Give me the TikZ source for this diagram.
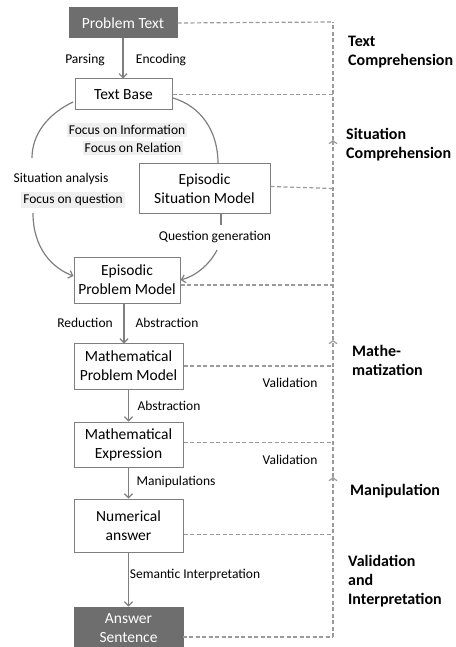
\documentclass[tikz,border=0pt]{standalone}
\usepackage{fontspec}
\setmainfont{Carlito}
\usetikzlibrary{arrows.meta}
\definecolor{boxdark}{HTML}{6E6E6E}
\definecolor{linegray}{HTML}{7F7F7F}
\definecolor{dashgray}{HTML}{9A9A9A}
\definecolor{tagfill}{HTML}{EFEFEF}
\tikzset{
  stage/.style={draw=linegray, line width=1pt, fill=white, align=center,
    inner sep=0pt, font=\fontsize{15.5}{19}\selectfont},
  endstage/.style={stage, fill=boxdark, draw=boxdark, text=white},
  lbl/.style={font=\fontsize{13.5}{16}\selectfont, inner sep=1pt},
  tag/.style={lbl, fill=tagfill, inner sep=2pt},
  phase/.style={font=\fontsize{16}{19}\selectfont\bfseries, align=left, anchor=west, inner sep=0pt},
  flow/.style={draw=linegray, line width=1.2pt, -{Straight Barb[length=4pt,width=8pt]}},
  link/.style={draw=dashgray, line width=1.2pt, dash pattern=on 4pt off 2.5pt},
  back/.style={link, -{Straight Barb[length=3pt,width=8pt]}}
}
\begin{document}
\begin{tikzpicture}[x=1pt,y=-1pt]
      \useasboundingbox (0,0) rectangle (455,647);

      % stages
      \node [endstage, minimum width=108pt, minimum height=30pt] (ptext) at (123,23) {Problem Text};
      \node [stage, minimum width=97pt, minimum height=31pt] (tbase) at (123.5,94.5) {Text Base};
      \node [stage, minimum width=131pt, minimum height=49pt] (esm) at (204.5,188.5) {Episodic\\Situation Model};
      \node [stage, minimum width=106pt, minimum height=46pt] (epm) at (127,280) {Episodic\\Problem Model};
      \node [stage, minimum width=109pt, minimum height=46pt] (mpm) at (128.5,366) {Mathematical\\Problem Model};
      \node [stage, minimum width=109pt, minimum height=45pt] (mexp) at (128.5,444.5) {Mathematical\\Expression};
      \node [stage, minimum width=109pt, minimum height=53pt] (numans) at (128.5,525.5) {Numerical\\answer};
      \node [endstage, minimum width=109pt, minimum height=42pt] (ansent) at (128.5,628) {Answer\\Sentence};

      % labels on the flow
      \node [lbl] (parse) at (85,60) {Parsing};
      \node [lbl] (encode) at (161,60) {Encoding};
      \node [tag] (finfo) at (127,130) {Focus on Information};
      \node [tag] (frel) at (133,148) {Focus on Relation};
      \node [lbl] (sitan) at (61,179) {Situation analysis};
      \node [tag] (fquest) at (73,200) {Focus on question};
      \node [lbl] (qgen) at (215,237) {Question generation};
      \node [lbl] (reduc) at (85,323) {Reduction};
      \node [lbl] (abstra) at (167,323) {Abstraction};
      \node [lbl] (abstrb) at (169,406) {Abstraction};
      \node [lbl] (manip) at (176,482) {Manipulations};
      \node [lbl] (seman) at (195,575) {Semantic Interpretation};
      \node [lbl] (valida) at (290,383) {Validation};
      \node [lbl] (validb) at (290,460) {Validation};

      % phases
      \node [phase] (ptc) at (348,52) {Text\\Comprehension};
      \node [phase] (psc) at (346,145) {Situation\\Comprehension};
      \node [phase] (pmz) at (352,360) {Mathe-\\matization};
      \node [phase] (pmp) at (350,491) {Manipulation};
      \node [phase] (pvi) at (348,581) {Validation\\and\\Interpretation};

      % main flow
      \draw [flow] (ptext.south) -- (ptext.south |- tbase.north);
      \draw [flow] (epm.south) ++(-3,0) -- ++(0,40);
      \draw [flow] (mpm.south) -- (mpm.south |- mexp.north);
      \draw [flow] (mexp.south) -- (mexp.south |- numans.north);
      \draw [flow] (numans.south) -- (numans.south |- ansent.north);

      % the loop round the situation model
      \coordinate (la) at (73,102);
      \coordinate (lb) at (32,158);
      \coordinate (lc) at (33,213);
      \coordinate (ra) at (173,98);
      \coordinate (rb) at (221,225);
      \coordinate (rc) at (217,250);
      \draw [draw=linegray, line width=1.2pt] (la) .. controls (48,114) and (32,134) .. (lb);
      \draw [flow] (lc) .. controls (33,248) and (52,268) .. ([yshift=4pt]epm.west);
      \draw [draw=linegray, line width=1.2pt] (ra) .. controls (200,106) and (218,130) .. (esm.north -| 218,0);
      \draw [draw=linegray, line width=1.2pt] (esm.south -| rb) -- (rb);
      \draw [flow] (rc) .. controls (210,264) and (196,276) .. (epm.east);

      % feedback
      \coordinate (vtop) at (333,22);
      \coordinate (vbot) at (333,637);
      \coordinate (vm) at (333,477);
      \coordinate (vs) at (333,340);
      \coordinate (vt) at (333,140);
      \draw [link] (ptext.east) -- (vtop);
      \draw [link] (tbase.east) -- (tbase.east -| vtop);
      \draw [link] (esm.east) ++(0,-2) -- (esm.east -| vtop);
      \draw [link] ([yshift=-5pt]epm.east) -- ([yshift=-5pt]epm.east -| vtop);
      \draw [link] (mpm.east) -- (mpm.east -| vtop);
      \draw [link] ([yshift=2pt]mexp.east) -- ([yshift=2pt]mexp.east -| vtop);
      \draw [link] ([yshift=-9pt]numans.east) -- ([yshift=-9pt]numans.east -| vtop);
      \draw [link] (ansent.west |- vbot) ++(109,0) -- (vbot);
      \draw [back] (vbot) -- (vm);
      \draw [back] (vm) -- (vs);
      \draw [back] (vs) -- (vt);
      \draw [link] (vt) -- (vtop);

\end{tikzpicture}
\end{document}
